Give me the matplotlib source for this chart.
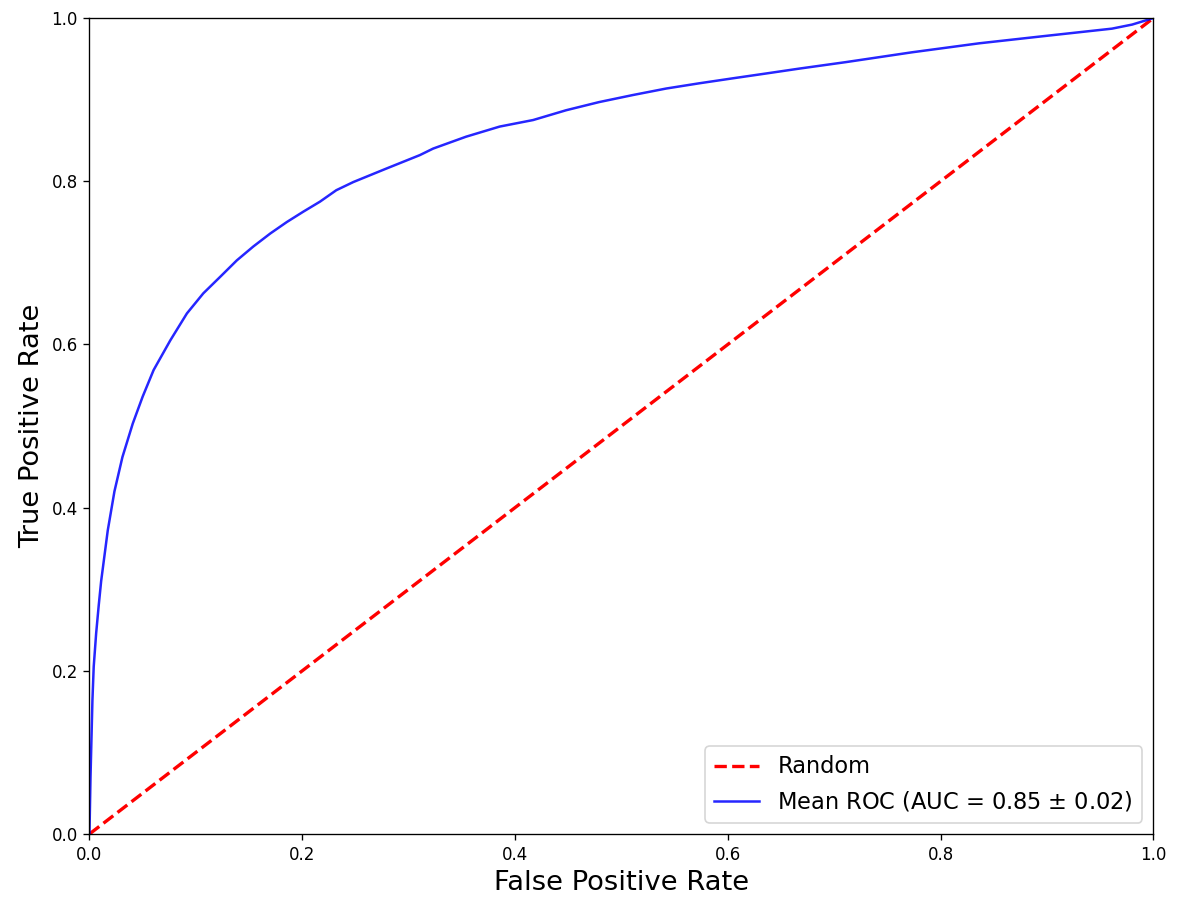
import matplotlib
matplotlib.use("Agg")
import matplotlib.pyplot as plt

# mean ROC curve
mean_fpr = [0.0, 0.001, 0.0028, 0.004, 0.0063, 0.0087, 0.011, 0.0135, 0.0172, 0.0235,
            0.031, 0.0407, 0.050, 0.0603, 0.076, 0.0916, 0.107, 0.123, 0.1385, 0.154,
            0.170, 0.1855, 0.201, 0.2167, 0.232, 0.248, 0.279, 0.3105, 0.323, 0.354,
            0.3856, 0.417, 0.448, 0.479, 0.5106, 0.542, 0.573, 0.604, 0.6357, 0.667,
            0.711, 0.773, 0.836, 0.898, 0.961, 0.980, 1.0]
mean_tpr = [0.0, 0.07, 0.164, 0.205, 0.246, 0.280, 0.310, 0.335, 0.372, 0.420,
            0.462, 0.503, 0.536, 0.5686, 0.605, 0.638, 0.6626, 0.683, 0.703, 0.720,
            0.736, 0.750, 0.7627, 0.775, 0.789, 0.799, 0.8155, 0.832, 0.840, 0.8546,
            0.867, 0.875, 0.887, 0.897, 0.9056, 0.9136, 0.920, 0.926, 0.932, 0.938,
            0.946, 0.958, 0.969, 0.978, 0.987, 0.992, 1.0]
chance = [0, 1]
auc_label = 'Mean ROC (AUC = 0.85 $\\pm$ 0.02)'

fig = plt.figure(figsize=(1177 / 120, 902 / 120), dpi=120)
ax = fig.add_subplot(111)
fig.subplots_adjust(left=0.076, right=0.980, bottom=0.0754, top=0.980)

ax.plot(chance, chance, linestyle='--', lw=2, color='r', label='Random')
ax.plot(mean_fpr, mean_tpr, color='b', lw=1.5, alpha=0.85, label=auc_label)

ax.set_xlim(0, 1)
ax.set_ylim(0, 1)
ax.set_xlabel('False Positive Rate', fontsize=16.4)
ax.set_ylabel('True Positive Rate', fontsize=16.4)
ax.tick_params(labelsize=10)
ax.legend(loc='lower right', fontsize=13.5)

fig.savefig('out.png', dpi=120)
